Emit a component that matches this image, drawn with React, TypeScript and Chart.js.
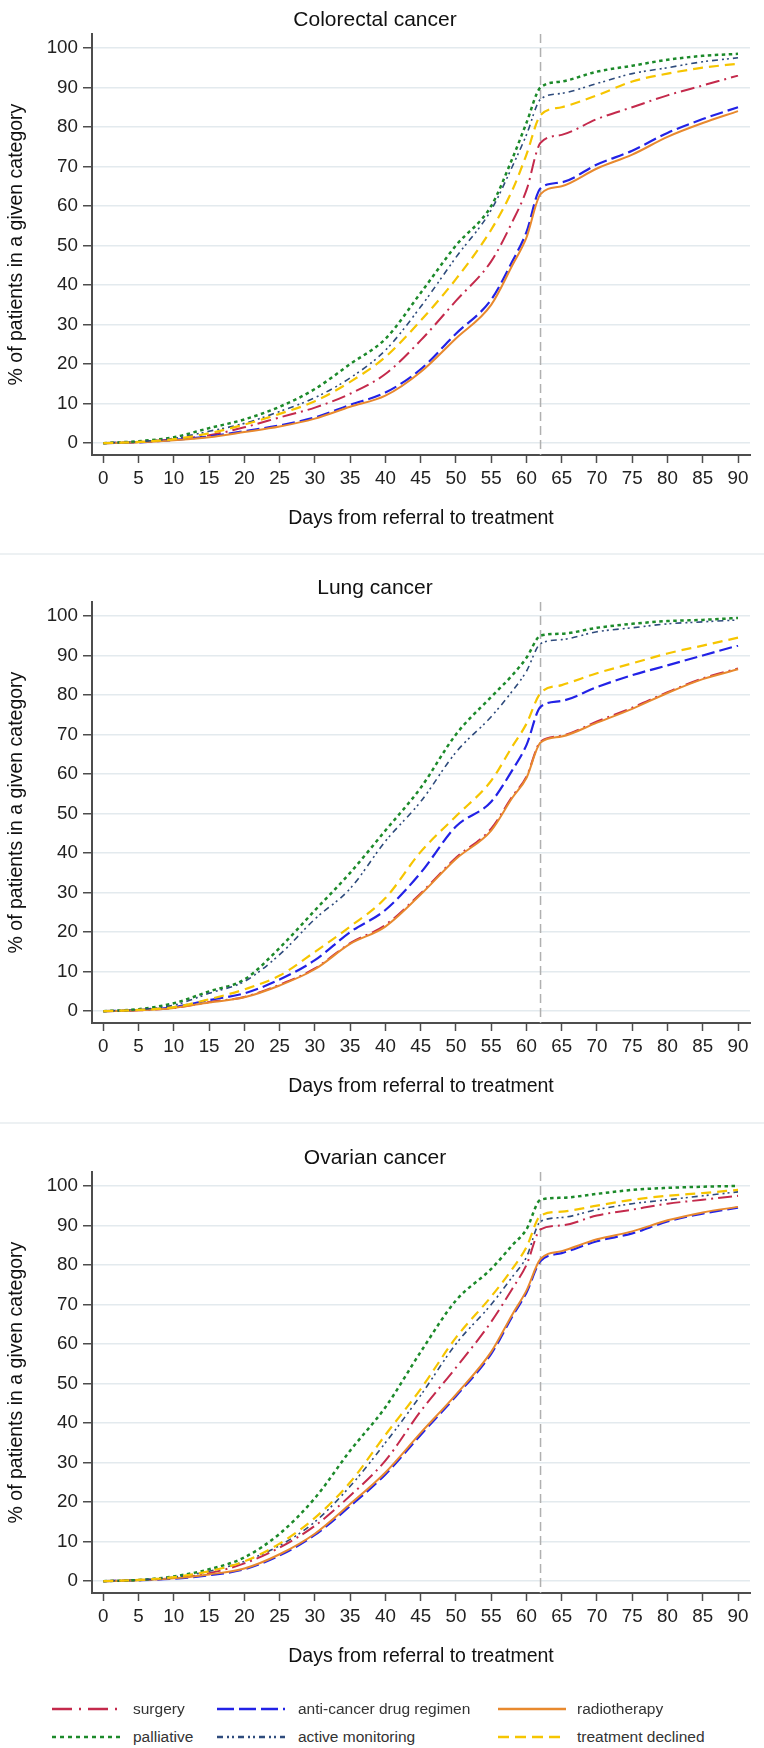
import React, { useEffect, useRef } from 'react';
import { Chart, registerables } from 'chart.js';

Chart.register(...registerables);

// ---------- data ----------
const DAYS = [0, 5, 10, 15, 20, 25, 30, 35, 40, 45, 50, 55, 58, 60, 62, 65, 70, 75, 80, 85, 90];
const X_TICKS = [0, 5, 10, 15, 20, 25, 30, 35, 40, 45, 50, 55, 60, 65, 70, 75, 80, 85, 90];
const Y_TICKS = [0, 10, 20, 30, 40, 50, 60, 70, 80, 90, 100];
const CUTOFF_DAY = 62;

const SERIES_NAMES = [
  'surgery',
  'anti-cancer drug regimen',
  'radiotherapy',
  'palliative',
  'active monitoring',
  'treatment declined',
];

const PANEL_TITLES = ['Colorectal cancer', 'Lung cancer', 'Ovarian cancer'];
const X_TITLE = 'Days from referral to treatment';
const Y_TITLE = '% of patients in a given category';

// Colorectal
const colorectalSurgery = [0, 0.3, 1, 2, 4, 6.5, 9, 12.5, 17.5, 26, 36, 46, 56, 64, 76, 78, 82, 85, 88, 90.5, 93];
const colorectalAntiCancer = [0, 0.2, 0.8, 1.7, 3, 4.5, 6.5, 9.7, 12.8, 18.7, 27.7, 36.3, 46, 53.4, 64.5, 66, 70.5, 74, 78.5, 82, 85];
const colorectalRadiotherapy = [0, 0.2, 0.7, 1.5, 2.8, 4.2, 6.2, 9.2, 12, 18, 26.5, 35, 45, 52, 63, 65, 69.5, 73, 77.5, 81, 84];
const colorectalPalliative = [0, 0.5, 1.5, 3.8, 6, 9.2, 13.7, 20, 26.4, 38, 50, 60, 72, 81, 90, 91.5, 94, 95.5, 97, 98, 98.5];
const colorectalActiveMonitoring = [0, 0.4, 1.2, 3, 5, 8, 11.5, 16.5, 23.5, 34.5, 47, 59, 70, 78, 87, 88.5, 91, 93.5, 95, 96.5, 97.5];
const colorectalDeclined = [0, 0.3, 1, 2.5, 4.7, 7.4, 10.6, 15.5, 21.8, 31, 41.5, 54, 64, 73, 83, 85, 88, 91.5, 93.5, 95, 96];

// Lung
const lungSurgery = [0, 0.2, 0.8, 2.3, 3.6, 6.7, 10.8, 17.2, 21.8, 29.8, 38.8, 46.2, 54.3, 59.3, 68.2, 69.7, 73.3, 76.8, 80.7, 84.2, 86.7];
const lungAntiCancer = [0, 0.3, 1, 2.8, 4.5, 8, 12.9, 20, 25.6, 35, 46.7, 53, 61, 67.3, 77, 78.5, 82, 85, 87.5, 90, 92.5];
const lungRadiotherapy = [0, 0.2, 0.8, 2.2, 3.5, 6.5, 10.6, 17, 21.4, 29.5, 38.5, 45.7, 54, 59, 68, 69.5, 73, 76.5, 80.5, 84, 86.5];
const lungPalliative = [0, 0.5, 2, 5, 8, 16, 25.5, 35, 45.7, 56.5, 70, 79.5, 85, 89.4, 95, 95.5, 97, 98, 98.7, 99, 99.5];
const lungActiveMonitoring = [0, 0.4, 1.5, 4.5, 7.5, 14.3, 23.3, 31, 43, 53, 65.5, 74.5, 81, 86, 93, 94, 96, 97, 98, 98.5, 99];
const lungDeclined = [0, 0.3, 1, 3, 5.5, 9, 15, 21.4, 28.6, 40.3, 49.3, 58.3, 67, 72.7, 80.5, 82.5, 85.5, 88, 90.5, 92.5, 94.5];

// Ovarian
const ovarianSurgery = [0, 0.3, 0.8, 2, 4.5, 8.5, 14, 21.6, 30.5, 43, 54, 65.6, 74, 80, 89, 90, 92.5, 94, 95.5, 96.5, 97.5];
const ovarianAntiCancer = [0, 0.2, 0.6, 1.5, 3, 6.5, 11.7, 19, 27, 37, 46.8, 57.5, 67, 73, 81, 83, 86, 88, 91, 93, 94.5];
const ovarianRadiotherapy = [0, 0.2, 0.7, 1.7, 3.2, 6.8, 12, 19.5, 27.5, 37.5, 47.2, 58, 67.5, 73.5, 81.5, 83.5, 86.5, 88.5, 91.3, 93.3, 94.7];
const ovarianPalliative = [0, 0.3, 1.2, 3, 6, 12, 21, 33, 44, 58, 71, 79, 85, 89, 96.5, 97, 98, 99, 99.5, 99.8, 100];
const ovarianActiveMonitoring = [0, 0.3, 1, 2.5, 5, 9, 15, 24, 35, 47, 60, 70, 77, 82, 91, 92, 94, 95.5, 96.5, 97.5, 98.5];
const ovarianDeclined = [0, 0.3, 1, 2.5, 5, 9.5, 16, 25, 37, 48.6, 61.6, 72, 79, 84.5, 92.5, 93.5, 95, 96.5, 97.5, 98.2, 99];

const PANEL_SERIES = [
  [colorectalSurgery, colorectalAntiCancer, colorectalRadiotherapy, colorectalPalliative, colorectalActiveMonitoring, colorectalDeclined],
  [lungSurgery, lungAntiCancer, lungRadiotherapy, lungPalliative, lungActiveMonitoring, lungDeclined],
  [ovarianSurgery, ovarianAntiCancer, ovarianRadiotherapy, ovarianPalliative, ovarianActiveMonitoring, ovarianDeclined],
];

// ---------- styles ----------
const FONT = "'Liberation Sans', Arial, Helvetica, sans-serif";
const SERIES_COLORS = ['#c42a4c', '#2222e6', '#e8892e', '#1c8a2a', '#2e4b7c', '#f6c500'];
const SERIES_DASH = [[14, 5, 2, 5], [13, 5], [], [3.5, 3.5], [6, 4, 2, 3, 2, 4], [10, 6]];
const SERIES_WIDTH = [2, 2.2, 2, 2.5, 1.6, 2.2];
const LEGEND_DASH = ['20 7 2 7', '17 5', '', '4 4', '6 4 2 3 2 4', '11 6'];
const PANEL_TOPS = [0, 568, 1138];
const PANEL_H = 570;
const SEPARATORS = [554, 1123];
const LEGEND_ROW_Y = [1709, 1737];
const LEGEND_LINE_X = [52, 217, 498];
const LEGEND_TEXT_X = [133, 298, 577];
const AXIS_COLOR = '#4d4d4d';

const cutoffPlugin = {
  id: 'cutoffLine',
  beforeDatasetsDraw(chart: any) {
    const { ctx, chartArea, scales } = chart;
    const x = scales.x.getPixelForValue(CUTOFF_DAY);
    ctx.save();
    ctx.strokeStyle = '#b0b0b0';
    ctx.lineWidth = 1.5;
    ctx.setLineDash([9, 5]);
    ctx.beginPath();
    ctx.moveTo(x, chartArea.top);
    ctx.lineTo(x, chartArea.bottom);
    ctx.stroke();
    ctx.restore();
  },
};

function makeConfig(title: string, values: number[][]): any {
  const datasets = SERIES_NAMES.map((name, i) => ({
    label: name,
    data: DAYS.map((d, j) => ({ x: d, y: values[i][j] })),
    borderColor: SERIES_COLORS[i],
    backgroundColor: SERIES_COLORS[i],
    borderDash: SERIES_DASH[i],
    borderWidth: SERIES_WIDTH[i],
    pointRadius: 0,
    fill: false,
    cubicInterpolationMode: 'monotone',
    order: SERIES_NAMES.length - i,
  }));
  return {
    type: 'line',
    data: { datasets },
    options: {
      responsive: false,
      animation: false,
      devicePixelRatio: 1,
      layout: { padding: { left: 0, right: 14, top: 0, bottom: 0 } },
      plugins: {
        legend: { display: false },
        tooltip: { enabled: false },
        title: {
          display: true,
          text: title,
          color: '#111',
          font: { family: FONT, size: 21, weight: 'normal', lineHeight: 1.1 },
          padding: { top: 9, bottom: 2 },
        },
      },
      scales: {
        x: {
          type: 'linear',
          min: -1.6,
          max: 91.7,
          afterBuildTicks: (s: any) => {
            s.ticks = X_TICKS.map((v) => ({ value: v }));
          },
          afterFit: (s: any) => {
            s.height = 115;
          },
          ticks: {
            autoSkip: false,
            maxRotation: 0,
            padding: 5,
            color: '#222',
            font: { family: FONT, size: 18.8 },
          },
          grid: {
            drawOnChartArea: false,
            drawTicks: true,
            tickLength: 8,
            tickColor: AXIS_COLOR,
            tickWidth: 1.5,
          },
          border: { display: true, color: AXIS_COLOR, width: 2 },
          title: {
            display: true,
            text: X_TITLE,
            color: '#111',
            font: { family: FONT, size: 19.5 },
            padding: { top: 0, bottom: 40 },
          },
        },
        y: {
          type: 'linear',
          min: -3,
          max: 103.5,
          afterBuildTicks: (s: any) => {
            s.ticks = Y_TICKS.map((v) => ({ value: v }));
          },
          afterFit: (s: any) => {
            s.width = 92;
          },
          ticks: {
            autoSkip: false,
            padding: 5,
            color: '#222',
            font: { family: FONT, size: 18.8 },
          },
          grid: {
            color: '#e3eaee',
            lineWidth: 1.5,
            drawTicks: true,
            tickLength: 9,
            tickColor: AXIS_COLOR,
            tickWidth: 1.5,
          },
          border: { display: true, color: AXIS_COLOR, width: 2 },
          title: {
            display: true,
            text: Y_TITLE,
            color: '#111',
            font: { family: FONT, size: 19.5 },
            padding: { top: 5, bottom: 0 },
          },
        },
      },
    },
    plugins: [cutoffPlugin],
  };
}

function Panel({ index }: { index: number }) {
  const ref = useRef<HTMLCanvasElement | null>(null);
  useEffect(() => {
    if (!ref.current) return;
    const chart = new Chart(ref.current, makeConfig(PANEL_TITLES[index], PANEL_SERIES[index]));
    return () => chart.destroy();
  }, [index]);
  return (
    <canvas
      ref={ref}
      width={764}
      height={PANEL_H}
      style={{ position: 'absolute', left: 0, top: PANEL_TOPS[index], width: 764, height: PANEL_H }}
    />
  );
}

export default function App() {
  return (
    <div
      style={{
        position: 'absolute',
        left: 0,
        top: 0,
        width: 764,
        height: 1748,
        background: '#ffffff',
        overflow: 'hidden',
        fontFamily: FONT,
      }}
    >
      {SEPARATORS.map((y) => (
        <div key={y} style={{ position: 'absolute', left: 0, top: y - 1, width: 764, height: 2, background: '#edf1f3' }} />
      ))}
      {PANEL_TITLES.map((_, i) => (
        <Panel key={i} index={i} />
      ))}
      {SERIES_NAMES.map((name, i) => {
        const row = Math.floor(i / 3);
        const col = i % 3;
        const y = LEGEND_ROW_Y[row];
        return (
          <React.Fragment key={name}>
            <svg
              width={68}
              height={10}
              style={{ position: 'absolute', left: LEGEND_LINE_X[col], top: y - 5 }}
            >
              <line
                x1={0}
                y1={5}
                x2={68}
                y2={5}
                stroke={SERIES_COLORS[i]}
                strokeWidth={2.6}
                strokeDasharray={LEGEND_DASH[i] || undefined}
              />
            </svg>
            <span
              style={{
                position: 'absolute',
                left: LEGEND_TEXT_X[col],
                top: y - 10,
                fontSize: 15.5,
                lineHeight: '20px',
                color: '#333',
                whiteSpace: 'nowrap',
              }}
            >
              {name}
            </span>
          </React.Fragment>
        );
      })}
    </div>
  );
}
